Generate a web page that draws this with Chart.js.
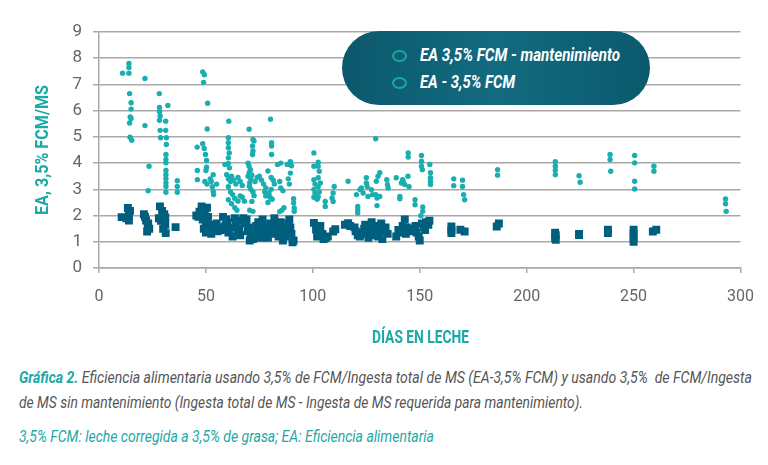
<!DOCTYPE html>
<html lang="es">
<head>
<meta charset="utf-8">
<title>Gráfica 2 - Eficiencia alimentaria</title>
<script src="https://cdn.jsdelivr.net/npm/chart.js@4.4.1/dist/chart.umd.min.js"></script>
<style>
    html, body { margin: 0; padding: 0; background: #fff; }
    body { width: 768px; height: 465px; position: relative; overflow: hidden; font-family: "Roboto", sans-serif; }
    #chart-wrap { position: absolute; left: 0; top: 0; width: 768px; height: 350px; }
    .fit { position: absolute; white-space: nowrap; transform-origin: left center; }
    .leyenda { position: absolute; left: 342px; top: 31px; width: 308px; height: 74px; border-radius: 37px;
               background: linear-gradient(90deg, #0b586c 0%, #136b7f 50%, #0b596d 100%); }
    .leyenda .mk { position: absolute; left: 50px; width: 11px; height: 8px; border: 2px solid #1aa9a0; border-radius: 50%; }
    .leyenda .fit { left: 78px; color: #fff; font-weight: bold; font-style: italic; font-size: 18px; line-height: 20px; }
    .eje { color: #1aa9a5; font-weight: bold; font-size: 18px; line-height: 20px; }
    .caption { left: 19px; font-size: 17px; font-style: italic; color: #555; line-height: 20px; }
    .caption b { color: #1aa9a5; }
    .teal { color: #1aa9a5; }
</style>
</head>
<body>
<div id="chart-wrap"><canvas id="ea-chart" width="768" height="350"></canvas></div>

<div class="leyenda">
    <div class="mk" style="top:19px"></div>
    <div class="fit" data-w="200" style="top:14px">EA 3,5% FCM - mantenimiento</div>
    <div class="mk" style="top:46px"></div>
    <div class="fit" data-w="95" style="top:41px">EA - 3,5% FCM</div>
</div>

<div class="fit eje" id="titulo-x" data-w="97" style="left:372px; top:327px">DÍAS EN LECHE</div>
<div class="eje" id="titulo-y" style="position:absolute; left:42px; top:150px; white-space:nowrap">EA, 3,5% FCM/MS</div>

<div class="fit caption" data-w="733" style="top:367px"><b>Gráfica 2.</b> Eficiencia alimentaria usando 3,5% de FCM/Ingesta total de MS (EA-3,5% FCM) y usando 3,5%&nbsp; de FCM/Ingesta</div>
<div class="fit caption" data-w="564" style="top:392px">de MS sin mantenimiento (Ingesta total de MS - Ingesta de MS requerida para mantenimiento).</div>
<div class="fit caption teal" data-w="415" style="top:426px">3,5% FCM: leche corregida a 3,5% de grasa; EA: Eficiencia alimentaria</div>

<script>
// datos: [días en leche, EA]
const puntosMantenimiento = [
    [11, 7.43], [14, 7.8], [14, 7.65], [14, 7.43], [14.3, 6.65], [15, 6.3], [15, 6.06], [14.6, 5.76], [15, 5.7],
    [14.3, 5.53], [14.5, 4.99], [15.3, 4.87],
    [21.5, 7.23], [21.5, 5.43], [23.4, 3.88], [23, 2.95],
    [28.2, 6.65], [28.3, 6.12], [28.3, 5.97], [28.6, 5.8], [28.3, 5.63], [28.6, 5.25], [28.8, 4.97],
    [32.2, 6.2], [31.2, 5.6], [31.2, 5.25], [31.5, 4.97], [31.5, 4.71], [31.3, 4.33], [31.3, 4.14], [31.3, 4.01],
    [31.3, 3.72], [31.3, 3.56], [31.3, 3.41], [31.3, 3.24], [31.3, 3.11], [31.3, 2.89],
    [36.6, 3.33], [36.6, 3.11], [36.6, 2.89],
    [45.9, 4.61], [46, 3.72], [46, 3.37],
    [48.5, 7.48], [49.3, 7.37], [48.9, 7.08], [50.8, 6.28], [50.6, 5.3], [48.5, 4.74], [49.2, 4.56], [49.8, 4.33],
    [50.3, 4.1], [50.3, 3.84], [50, 3.72], [49.5, 3.3], [50.5, 3.2], [52, 3.4], [52.5, 3.3], [53, 3.1], [53.4, 2.92],
    [53.4, 3.56], [53.6, 2.8], [55, 3.2],
    [60.7, 5.6], [60.5, 4.97], [60.5, 4.78], [60.5, 4.59], [60.9, 4.39], [60.5, 4.2], [60.5, 3.99], [61, 3.82],
    [58.9, 3.95], [59.7, 3.56], [60.5, 3.4], [61.5, 3.3], [62, 3.5], [63, 3.35], [64, 3.2], [65, 3.45], [66, 3.3],
    [67, 3.15], [60.5, 3.1], [61.5, 2.9], [62.5, 2.8], [63.5, 2.65], [65, 2.55], [60.5, 2.6], [62, 2.45],
    [63.5, 2.3], [64.5, 2.2], [66, 2.75], [67, 2.7], [68, 2.55],
    [70.2, 5.29], [72, 4.9], [72.5, 4.84], [71.8, 4.65], [72, 4.46], [71.8, 4.33], [69.7, 4.0], [70.2, 3.88],
    [70.8, 3.75], [70.2, 3.63], [69.7, 3.5], [71, 3.4], [71.5, 3.55], [70.5, 3.25], [70.3, 3.12], [71, 3.0],
    [72, 2.9], [72.5, 2.76], [73, 3.3], [74, 3.45], [75, 3.5], [76, 3.35], [77, 3.2], [78, 3.05], [77.5, 2.9],
    [78, 2.75], [79.5, 2.85], [80, 2.7], [81, 2.62], [79, 2.5], [80.5, 3.0], [71.5, 2.54], [70.5, 2.2], [72, 2.16],
    [80.2, 5.67], [80.7, 4.78], [80.7, 4.65], [80.7, 4.33],
    [79, 3.7], [80.5, 3.45], [81.5, 3.35], [82, 3.2], [83.5, 3.95], [84.5, 3.3], [85, 3.05], [86, 2.95], [85, 4.0],
    [88, 3.95], [89.5, 4.05], [90, 3.9], [89.5, 3.62], [88.5, 3.4], [89, 3.2], [86.5, 2.3], [85.5, 2.2], [84.5, 2.15],
    [91, 2.64], [91, 2.48], [91.3, 2.29], [91.3, 2.16],
    [100.5, 4.39], [100.5, 3.88], [102.5, 4.03], [102.5, 3.88], [103, 3.69], [102.5, 3.44], [103.5, 3.24],
    [100.5, 3.37], [101, 3.2], [100.5, 3.0], [101, 2.85], [100.5, 2.7], [102.5, 3.1], [103, 2.9], [102.5, 2.72],
    [102, 2.62], [105.8, 2.54], [105.8, 2.35],
    [110, 3.11], [109.5, 2.86], [109, 2.67], [109.5, 2.54], [116.5, 3.31],
    [121, 2.35], [121, 2.22], [121, 2.1], [120.4, 2.8], [122, 2.99], [122.7, 3.05], [123.5, 2.86], [125, 3.24],
    [125, 3.44], [125.4, 3.11], [125.8, 2.73], [127.4, 2.99], [127.9, 2.8], [129.7, 3.31], [130.5, 3.5],
    [131.3, 3.63], [130, 2.67], [130, 2.38], [129.4, 2.8], [131.3, 2.73], [129.4, 4.93],
    [134.6, 3.37], [134.9, 3.18], [135.2, 3.05], [140.7, 2.73], [140.7, 2.64], [141.4, 3.24], [142.2, 3.31],
    [143, 3.18], [139, 3.44], [144.6, 4.39], [144.6, 4.23], [142, 3.37], [144.5, 3.5], [145, 3.1],
    [147.8, 2.6], [147.8, 2.41], [151.4, 2.33], [151.4, 2.16], [150.5, 1.99],
    [150.8, 4.29], [150.8, 4.07], [150.8, 3.88], [151.2, 3.75], [154.7, 3.95], [155, 3.63], [155, 3.44],
    [155, 3.31], [155, 3.18],
    [165.9, 3.4], [165.9, 3.14], [170, 3.35], [170, 3.11], [170.5, 2.8], [171, 2.6],
    [186.4, 3.75], [186.4, 3.54],
    [213.4, 4.05], [213.4, 3.88], [213.4, 3.73], [213.4, 3.56],
    [224.5, 3.52], [225, 3.27],
    [239, 4.33], [239, 4.14], [239.3, 3.69],
    [250.5, 4.29], [250.5, 4.01], [250.5, 3.31], [250.5, 3.01],
    [259.5, 3.88], [259.5, 3.69],
    [293, 2.63], [293, 2.45], [293.3, 2.16]
];

const puntosFCM = [
    [10.6, 1.94], [13.5, 2.29], [14.5, 2.18], [14, 2.0], [12.8, 1.9], [14, 1.81],
    [21, 2.05], [21.5, 1.95], [22, 1.81], [23, 1.7], [22.8, 1.62], [23.5, 1.5], [22.5, 1.39],
    [28.5, 2.35], [29.5, 2.18], [30.5, 2.05], [28, 1.9], [31, 1.93], [29, 1.8], [31, 1.65], [30, 1.5], [31.2, 1.33],
    [35.8, 1.56],
    [45.5, 2.0], [48, 2.35], [50.5, 2.3], [47, 2.15], [49.5, 2.05], [51, 1.95], [46.5, 1.95], [48.5, 1.85],
    [50, 1.75], [52, 1.6], [49, 1.5], [50, 1.35], [52.5, 1.3], [53, 1.55], [51.5, 1.65],
    [55, 1.7], [56, 1.55], [55.5, 1.4], [57, 1.45],
    [58, 1.95], [59.5, 1.85], [60, 1.75], [59, 1.6], [61, 1.45], [60.5, 1.35], [62.5, 1.2], [63.5, 1.9],
    [64, 1.7], [63, 1.55], [65, 1.4], [66, 1.25], [66.5, 1.8], [65.5, 1.5],
    [67.5, 1.9], [69, 1.85], [68.5, 1.7], [70, 1.55], [69.5, 1.4], [71, 1.25], [72, 1.1], [70.5, 1.05],
    [73, 1.3], [73.5, 1.6], [74.5, 1.75], [75, 1.45], [74, 1.2], [75.5, 1.15],
    [76.5, 1.85], [77, 1.6], [78, 1.4], [77.5, 1.25], [79, 1.15], [80, 1.7], [81, 1.5], [80.5, 1.3],
    [82, 1.9], [83, 1.6], [82.5, 1.4], [84, 1.2],
    [85, 1.75], [86, 1.5], [86.5, 1.4], [87, 1.2], [86, 1.05], [88.5, 1.7], [89, 1.85], [89.5, 1.55],
    [90, 1.3], [91, 1.05], [90.5, 0.98],
    [100.5, 1.72], [101.5, 1.47], [102, 1.2], [103.5, 1.6], [104.5, 1.3], [106, 1.14], [107, 1.2], [105, 1.1],
    [109.5, 1.39], [110.5, 1.48],
    [115, 1.65], [116.5, 1.71], [117.5, 1.6],
    [119.5, 1.55], [120, 1.4], [121, 1.25], [122, 1.2], [123, 1.35], [124, 1.5], [124.5, 1.65], [125, 1.3],
    [126, 1.15], [127.5, 1.75], [127, 1.45], [128, 1.25], [129, 1.6], [130, 1.35], [131, 1.5], [132, 1.7],
    [130.5, 1.2], [133, 1.4], [134, 1.55], [132.5, 1.1], [135, 1.3],
    [139, 1.2], [140, 1.45], [141, 1.35], [142, 1.6], [143, 1.85], [144, 1.55], [145, 1.4], [143.5, 1.3],
    [147, 1.5], [148, 1.6], [148.5, 1.35], [149.5, 1.2], [150, 1.05], [151, 1.7], [152, 1.55], [153, 1.75],
    [152.5, 1.45], [154, 1.65], [154.5, 1.8],
    [164.8, 1.58], [164.8, 1.45], [164.8, 1.33], [169, 1.46], [171, 1.39],
    [186, 1.58], [187, 1.7],
    [213.3, 1.35], [213.6, 1.25], [213.3, 1.15], [213.6, 1.08],
    [224.5, 1.26], [224.5, 1.3],
    [238, 1.46], [238, 1.33],
    [250, 1.46], [250, 1.3], [250, 1.15], [250, 1.0],
    [259, 1.39], [260.6, 1.46]
];

const colorMantenimiento = '#19aeb0';
const colorFCM = '#005f7e';
const colorEjes = '#a9a9a9';
const fuenteTicks = '"Roboto", "Liberation Sans", sans-serif';

function toXY(list) {
    return list.map(p => ({ x: p[0], y: p[1] }));
}

// comprime horizontalmente los textos HTML para imitar la tipografía condensada
function ajustarAncho() {
    document.querySelectorAll('.fit').forEach(el => {
        const w = el.getBoundingClientRect().width;
        el.style.transform = `scaleX(${el.dataset.w / w})`;
    });
    const ty = document.getElementById('titulo-y');
    const wy = ty.getBoundingClientRect().width;
    ty.style.transform = `translate(-50%, -50%) rotate(-90deg) scaleX(${130 / wy})`;
}

const ctx = document.getElementById('ea-chart').getContext('2d');
new Chart(ctx, {
    type: 'scatter',
    data: {
        datasets: [
            { label: 'EA - 3,5% FCM', data: toXY(puntosFCM), pointStyle: 'rect', pointRadius: 5.6,
              backgroundColor: colorFCM, borderColor: colorFCM, borderWidth: 0 },
            { label: 'EA 3,5% FCM - mantenimiento', data: toXY(puntosMantenimiento), pointStyle: 'circle', pointRadius: 2.7,
              backgroundColor: colorMantenimiento, borderColor: colorMantenimiento, borderWidth: 0 }
        ]
    },
    options: {
        responsive: false, animation: false, devicePixelRatio: 1,
        layout: { padding: { left: 33, right: 27, top: 32, bottom: 0 } },
        plugins: { legend: { display: false }, tooltip: { enabled: false } },
        scales: {
            x: {
                type: 'linear', min: 0, max: 300,
                ticks: { stepSize: 50, color: '#666', padding: 14, font: { family: fuenteTicks, size: 16 } },
                grid: { drawOnChartArea: false, drawTicks: true, tickLength: 5, color: colorEjes, lineWidth: 1.5 },
                border: { color: colorEjes, width: 1.5 },
                afterFit: s => { s.height = 82; }
            },
            y: {
                min: 0, max: 9,
                ticks: { stepSize: 1, color: '#666', padding: 11, font: { family: fuenteTicks, size: 17 } },
                grid: { color: colorEjes, lineWidth: 1.5, tickLength: 6 },
                border: { color: colorEjes, width: 1.5 },
                afterFit: s => { s.width = 66; }
            }
        }
    }
});

ajustarAncho();
</script>
</body>
</html>
